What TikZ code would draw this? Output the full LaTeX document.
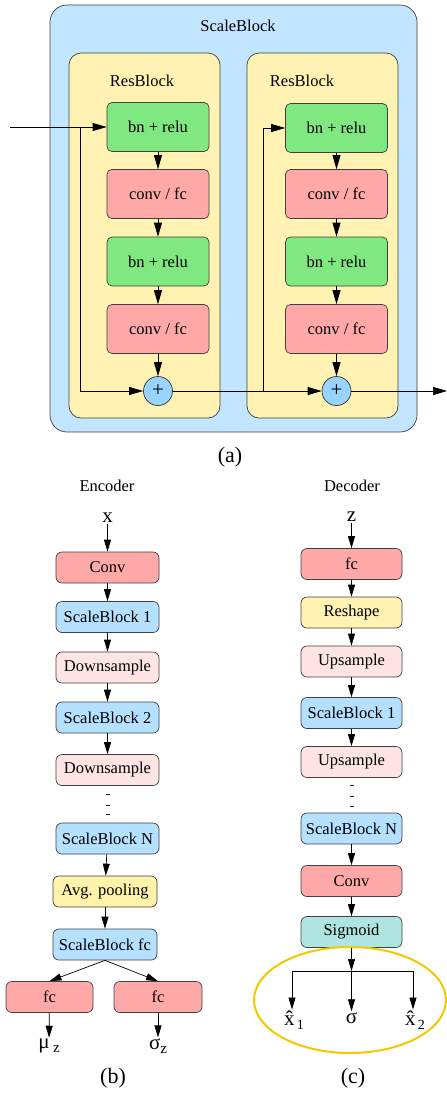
\documentclass[tikz,border=0pt]{standalone}
\usepackage{fontspec}
\setmainfont{Liberation Serif}
\usetikzlibrary{arrows.meta,calc}

\definecolor{scaleblue}{RGB}{194,230,255}
\definecolor{resyellow}{RGB}{255,242,179}
\definecolor{bngreen}{RGB}{128,232,128}
\definecolor{convred}{RGB}{255,168,168}
\definecolor{plusblue}{RGB}{153,211,255}
\definecolor{sbblue}{RGB}{181,224,255}
\definecolor{samplepink}{RGB}{255,228,228}
\definecolor{poolyellow}{RGB}{255,242,170}
\definecolor{sigteal}{RGB}{174,229,224}
\definecolor{goldring}{RGB}{245,200,0}

\tikzset{
  lbl/.style={font=\fontsize{16.5}{18}\selectfont, inner sep=0pt},
  subcap/.style={font=\fontsize{22}{24}\selectfont, inner sep=0pt},
  var/.style={font=\fontsize{21}{22}\selectfont, inner sep=1pt},
  bigbox/.style={draw=black!75, line width=0.7pt, rounded corners=5pt, inner sep=0pt,
                 minimum width=102pt, minimum height=49pt, font=\fontsize{16.5}{18}\selectfont},
  smallbox/.style={draw=black!75, line width=0.7pt, rounded corners=6pt, inner sep=0pt,
                 minimum width=103pt, minimum height=31pt, font=\fontsize{16.5}{18}\selectfont},
  plus/.style={draw=black!80, line width=0.7pt, circle, fill=plusblue, minimum size=29pt,
                 inner sep=0pt, font=\fontsize{21}{21}\selectfont},
  flow/.style={line width=0.7pt, -{Triangle[length=14pt,width=8pt]}},
  thinflow/.style={line width=0.7pt, -{Triangle[length=12pt,width=7pt]}},
  tick/.style={line width=1pt, black!85}
}

\begin{document}
\begin{tikzpicture}[x=1pt,y=-1pt]
\useasboundingbox (0,0) rectangle (447,1093);

%% (a) ScaleBlock
\draw[draw=black!75, line width=0.7pt, fill=scaleblue, rounded corners=17pt] (50,5) rectangle (417,432);
\node[lbl] (sbtitle) at (238,26) {ScaleBlock};

\draw[draw=black!75, line width=0.7pt, fill=resyellow, rounded corners=12pt] (69,53) rectangle (220,418);
\draw[draw=black!75, line width=0.7pt, fill=resyellow, rounded corners=12pt] (247,53) rectangle (398,418);
\node[lbl] (rbtitlea) at (142,81) {ResBlock};
\node[lbl] (rbtitleb) at (302,81) {ResBlock};

\node[bigbox, fill=bngreen] (bna) at (158,127) {bn + relu};
\node[bigbox, fill=convred] (cva) at (158,194) {conv / fc};
\node[bigbox, fill=bngreen] (bnc) at (158,261.5) {bn + relu};
\node[bigbox, fill=convred] (cvc) at (158,329) {conv / fc};
\node[plus] (plusa) at (158,391) {+};

\node[bigbox, fill=bngreen] (bnb) at (336.5,128) {bn + relu};
\node[bigbox, fill=convred] (cvb) at (336.5,194) {conv / fc};
\node[bigbox, fill=bngreen] (bnd) at (336.5,261.5) {bn + relu};
\node[bigbox, fill=convred] (cvd) at (336.5,329) {conv / fc};
\node[plus] (plusb) at (336.5,391) {+};

\coordinate (inp) at (10,127);
\coordinate (skipa) at (80,127);
\coordinate (skipb) at (263,391);
\coordinate (outp) at (447,391);

\draw[flow] (inp) -- (bna);
\draw[flow] (bna) -- (cva);
\draw[flow] (cva) -- (bnc);
\draw[flow] (bnc) -- (cvc);
\draw[flow] (cvc) -- (plusa);
\draw[flow] (skipa) |- (plusa);

\draw[flow] (plusa) -- (plusb);
\draw[flow] (skipb) |- (bnb);
\draw[flow] (bnb) -- (cvb);
\draw[flow] (cvb) -- (bnd);
\draw[flow] (bnd) -- (cvd);
\draw[flow] (cvd) -- (plusb);
\draw[flow] (plusb) -- (outp);

\node[subcap] (capa) at (230,457) {(a)};

%% (b) Encoder
\node[lbl] (enctitle) at (107,486) {Encoder};
\node[var] (xin) at (107.5,518) {x};
\node[smallbox, fill=convred] (econv) at (107.5,567.5) {Conv};
\node[smallbox, fill=sbblue] (esba) at (107.5,617) {ScaleBlock 1};
\node[smallbox, fill=samplepink] (edowna) at (107.5,667.5) {Downsample};
\node[smallbox, fill=sbblue] (esbb) at (107.5,717.5) {ScaleBlock 2};
\node[smallbox, fill=samplepink] (edownb) at (107.5,770) {Downsample};
\node[smallbox, fill=sbblue] (esbn) at (107.5,838.5) {ScaleBlock N};
\node[smallbox, fill=poolyellow, minimum width=104pt] (epool) at (105,891.5) {Avg. pooling};
\node[smallbox, fill=sbblue, minimum width=104pt] (esbfc) at (105,944.5) {ScaleBlock fc};
\node[smallbox, fill=convred, minimum width=87pt] (fcmu) at (49.5,997) {fc};
\node[smallbox, fill=convred, minimum width=88pt] (fcsig) at (158,997) {fc};
\node[var] (muz) at (49,1046) {μ\,\raisebox{-4pt}{\fontsize{15}{15}\selectfont z}};
\node[var] (sigz) at (158,1046) {σ\raisebox{-4pt}{\fontsize{15}{15}\selectfont z}};

\draw[thinflow] (xin) -- (econv);
\draw[thinflow] (econv) -- (esba);
\draw[thinflow] (esba) -- (edowna);
\draw[thinflow] (edowna) -- (esbb);
\draw[thinflow] (esbb) -- (edownb);
\foreach \t in {0.24,0.53,0.79}
  \draw[tick] ($(edownb.south)!\t!(esbn.north)$) ++(-2,0) -- ++(4,0);
\draw[thinflow] (esbn) -- (epool);
\draw[thinflow] (epool) -- (esbfc);
\draw[thinflow] (esbfc.south) -- (fcmu.north);
\draw[thinflow] (esbfc.south) -- (fcsig.north);
\draw[thinflow] (fcmu) -- (muz);
\draw[thinflow] (fcsig) -- (sigz);

\node[subcap] (capb) at (113,1078) {(b)};

%% (c) Decoder
\node[lbl] (dectitle) at (352,486) {Decoder};
\node[var] (zin) at (351.5,517) {z};
\node[smallbox, fill=convred, minimum width=101pt] (dfc) at (351.5,564) {fc};
\node[smallbox, fill=resyellow, minimum width=101pt] (dreshape) at (351.5,612.5) {Reshape};
\node[smallbox, fill=samplepink, minimum width=101pt] (dupa) at (351.5,661.5) {Upsample};
\node[smallbox, fill=sbblue, minimum width=101pt] (dsba) at (351.5,713) {ScaleBlock 1};
\node[smallbox, fill=samplepink, minimum width=101pt] (dupb) at (351.5,762) {Upsample};
\node[smallbox, fill=sbblue, minimum width=101pt] (dsbn) at (351.5,828.5) {ScaleBlock N};
\node[smallbox, fill=convred, minimum width=101pt] (dconv) at (351.5,881) {Conv};
\node[smallbox, fill=sigteal, minimum width=101pt] (dsig) at (351.5,932) {Sigmoid};

\draw[thinflow] (zin) -- (dfc);
\draw[thinflow] (dfc) -- (dreshape);
\draw[thinflow] (dreshape) -- (dupa);
\draw[thinflow] (dupa) -- (dsba);
\draw[thinflow] (dsba) -- (dupb);
\foreach \t in {0.22,0.53,0.81}
  \draw[tick] ($(dupb.south)!\t!(dsbn.north)$) ++(-2,0) -- ++(4,0);
\draw[thinflow] (dsbn) -- (dconv);
\draw[thinflow] (dconv) -- (dsig);

%% outputs
\draw[goldring, line width=2pt] (350,1000) ellipse (96 and 53);
\coordinate (fork) at (351.5,971);
\coordinate (forkl) at (292,971);
\coordinate (forkr) at (413,971);
\node[var] (xa) at (294,1020) {\^{x}\raisebox{-4pt}{\fontsize{14}{14}\selectfont\,1}};
\node[var] (sig) at (351.5,1018) {σ};
\node[var] (xb) at (415,1020) {\^{x}\raisebox{-4pt}{\fontsize{14}{14}\selectfont\,2}};

\draw[thinflow] (dsig) -- (fork);
\draw[line width=0.7pt] (forkl) -- (forkr);
\draw[thinflow] (forkl) -- (forkl |- xa.north);
\draw[thinflow] (fork) -- (sig);
\draw[thinflow] (forkr) -- (forkr |- xb.north);

\node[subcap] (capc) at (353,1078) {(c)};
\end{tikzpicture}
\end{document}
